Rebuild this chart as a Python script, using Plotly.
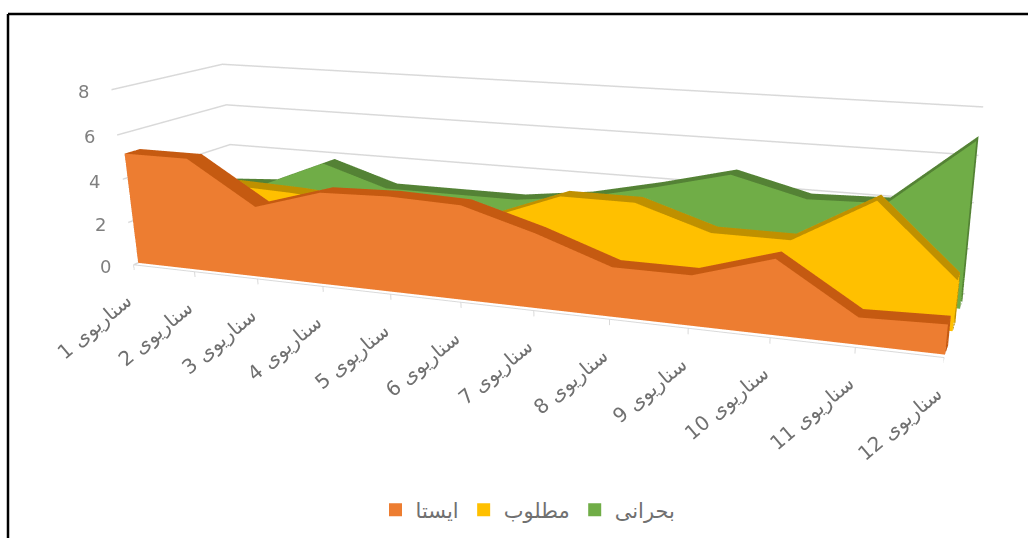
import plotly.graph_objects as go

categories = ["سناریوی %d" % i for i in range(1, 13)]
static = [5.1, 5.1, 3.2, 4.1, 4.2, 4.1, 3.2, 2.1, 2.1, 3.1, 1.1, 1.2]
desired = [3.0, 3.3, 3.2, 3.0, 3.0, 2.9, 4.1, 4.1, 3.1, 3.1, 5.0, 2.1]
critical = [2.5, 2.7, 3.95, 3.0, 3.0, 3.0, 3.4, 4.1, 4.9, 4.1, 4.2, 7.0]
names = ["ایستا", "مطلوب", "بحرانی"]
z_ticks = [0, 2, 4, 6, 8]
xs = list(range(1, 13))

# page geometry (the figure is larger than the window to get a long lens)
WIN_W, WIN_H = 1028, 538
FIG_W, FIG_H, TOP = 1205, 1101, -203
def px(x): return x / FIG_W
def py(y): return 1 - (y - TOP) / FIG_H

Z_MIN = -0.3
ay, az = 0.2274, 0.2197
dz = (4 - (8 + Z_MIN) / 2) / 8 * az
eye = dict(x=0.5969, y=-1.4344, z=0.3676 + dz)
center = dict(x=0.1073, y=-0.0551, z=-0.167 + dz)
up = dict(x=-0.0035, y=0.0392, z=1)

palette = [("#ED7D31", "#C55A11"), ("#FFC000", "#BF9000"), ("#70AD47", "#548235")]
depths = [(0.04, .17), (.38, .51), (.74, .87)]

def slab(vals, v0, v1, front, top, name):
    X, Y, Z = [], [], []
    for x, v in zip(xs, vals):
        X += [x, x, x, x]; Y += [v0, v0, v1, v1]; Z += [0, v, 0, v]
    I, J, K, C = [], [], [], []
    def q(a, b, c, d, col):
        I.extend([a, a]); J.extend([b, c]); K.extend([c, d]); C.extend([col, col])
    for n in range(len(xs) - 1):
        a = 4 * n; b = a + 4
        q(a, b, b + 1, a + 1, front)
        q(a + 2, b + 2, b + 3, a + 3, front)
        q(a + 1, b + 1, b + 3, a + 3, top)
    q(0, 2, 3, 1, top)
    e = 4 * (len(xs) - 1)
    q(e, e + 2, e + 3, e + 1, top)
    return go.Mesh3d(x=X, y=Y, z=Z, i=I, j=J, k=K, facecolor=C, flatshading=True, name=name, hoverinfo="skip",
                     lighting=dict(ambient=1, diffuse=0, specular=0, roughness=1, fresnel=0), showscale=False)

fig = go.Figure()
for vals, (front, top), (v0, v1), name in zip([static, desired, critical], palette, depths, names):
    fig.add_trace(slab(vals, v0, v1, front, top, name))
for (front, _), name in zip(palette, names):
    fig.add_trace(go.Scatter3d(x=[None], y=[None], z=[None], mode="markers", name=name, showlegend=True,
                               marker=dict(symbol="square", size=13, color=front)))

# category axis line and its tick marks
ax_x, ax_z = [xs[0], xs[-1], None], [0, 0, None]
for x in xs:
    ax_x += [x, x, None]; ax_z += [0, -0.25, None]
fig.add_trace(go.Scatter3d(x=ax_x, y=[0] * len(ax_x), z=ax_z, mode="lines", showlegend=False, hoverinfo="skip",
                           line=dict(color="#D9D9D9", width=2)))

ann = [dict(x=min(x, 11.999), y=0, z=0, text=c, showarrow=False, textangle=-40, xanchor="right", yanchor="top",
            xshift=6, yshift=-21, font=dict(family="DejaVu Sans", size=20, color="#707070"))
       for x, c in zip(xs, categories)]
ann += [dict(x=1, y=0, z=t, text=str(t), showarrow=False, xanchor="center", xshift=-28, yshift=-2,
             font=dict(family="DejaVu Sans", size=18, color="#7f7f7f")) for t in z_ticks]
off = dict(showbackground=False, showgrid=False, zeroline=False, showticklabels=False, showline=False,
           ticks="", title="", showspikes=False)
scene = dict(
    xaxis=dict(off, range=[1, 12]),
    yaxis=dict(off, range=[0, 1]),
    zaxis=dict(off, range=[Z_MIN, 8], showgrid=True, gridcolor="#D9D9D9", gridwidth=3, tickvals=z_ticks),
    aspectmode="manual", aspectratio=dict(x=1, y=ay, z=az * (8 - Z_MIN) / 8),
    camera=dict(eye=eye, center=center, up=up, projection=dict(type="perspective")),
    annotations=ann, domain=dict(x=[0, 1], y=[0, 1]))
fig.update_layout(
    width=FIG_W, height=FIG_H, margin=dict(l=0, r=0, t=0, b=0), paper_bgcolor="white", scene=scene,
    legend=dict(orientation="h", x=px(528), xanchor="center", y=py(510), yanchor="middle",
                font=dict(family="DejaVu Sans", size=21, color="#707070")),
    shapes=[dict(type="line", xref="paper", yref="paper", x0=px(8), x1=1, y0=py(14), y1=py(14),
                 line=dict(color="black", width=2.5)),
            dict(type="line", xref="paper", yref="paper", x0=px(8), x1=px(8), y0=py(WIN_H + 40), y1=py(14),
                 line=dict(color="black", width=2.5))])
fig.write_html("out.html", post_script=
    "document.documentElement.style.overflow='hidden';document.body.style.margin='0';document.body.style.overflow='hidden';"
    "document.querySelector('.plotly-graph-div').style.marginTop='%dpx';" % TOP)
